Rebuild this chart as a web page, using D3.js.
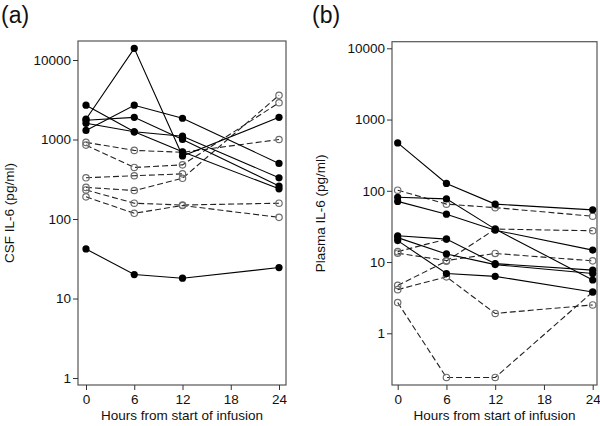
<!DOCTYPE html>
<html><head><meta charset="utf-8">
<script src="https://cdn.jsdelivr.net/npm/d3@7"></script>
<style>
html,body{margin:0;padding:0;background:#fff;}
svg{display:block;font-family:"Liberation Sans",Arial,Helvetica,sans-serif;}
</style></head>
<body><svg id="c" width="600" height="426"></svg>
<script>
const hours = [0, 6, 12, 24];
const xTicks = [0, 6, 12, 18, 24];
const yTicksA = [1, 10, 100, 1000, 10000];
const yTicksB = [1, 10, 100, 1000, 10000];

// Panel (a) CSF IL-6, solid = filled circles
const csfSolid = [
  [1800, 14000, 620, 1900],
  [1300, 2700, 1850, 500],
  [1750, 1900, 1000, 260],
  [2700, 1250, 700, 240],
  [1600, 1250, 1100, 330],
  [42, 20, 18, 24.5]
];
// Panel (a) open circles, dashed
const csfOpen = [
  [920, 730, 690, 1000],
  [850, 445, 480, 2900],
  [330, 350, 370, null],
  [250, 228, 325, 3600],
  [232, 158, 150, 158],
  [190, 118, 148, 105]
];
// Panel (b) Plasma IL-6, solid
const plasmaSolid = [
  [470, 127, 65, 54],
  [81, 77, 29, 5.6],
  [71, 47, 28, 14.7],
  [23.4, 21, 9.5, 7.7],
  [22, 13, 9.2, 6.9],
  [20, 6.9, 6.3, 3.8]
];
// Panel (b) open, dashed
const plasmaOpen = [
  [102, 65, 58, 44],
  [14, 21, null, null],
  [13.3, 10.5, 13.2, 10.4],
  [4.7, 10.3, 29, 27.5],
  [4.1, 6.2, 1.9, 2.5],
  [2.7, 0.24, 0.24, 3.8]
];

const svg = d3.select("#c");

function panel(opt) {
  const x = d3.scaleLinear().domain(opt.xd).range([opt.left, opt.right]);
  const y = d3.scaleLog().domain(opt.yd).range([opt.bottom, opt.top]);
  const g = svg.append("g");
  const axCol = "#333";

  g.append("rect").attr("x", opt.left).attr("y", opt.top)
    .attr("width", opt.right - opt.left).attr("height", opt.bottom - opt.top)
    .attr("fill", "none").attr("stroke", "#555").attr("stroke-width", 1.2);

  const yAxis = g.append("g").attr("transform", `translate(${opt.left},0)`)
    .call(d3.axisLeft(y).tickValues(opt.yTicks).tickFormat(d3.format("d")).tickSize(5).tickPadding(2));
  const xAxis = g.append("g").attr("transform", `translate(0,${opt.bottom})`)
    .call(d3.axisBottom(x).tickValues(xTicks).tickFormat(d3.format("d")).tickSize(5).tickPadding(4));
  [yAxis, xAxis].forEach(a => {
    a.select(".domain").remove();
    a.selectAll("line").attr("stroke", axCol).attr("stroke-width", 1);
    a.selectAll("text").attr("fill", "#111").style("font-size", "13.5px")
      .style("font-family", "Liberation Sans, Arial, sans-serif");
  });

  const line = d3.line().defined(d => d.v != null)
    .x(d => x(d.h)).y(d => y(d.v));
  const toPts = s => s.map((v, i) => ({h: hours[i], v: v}));

  opt.open.forEach(s => {
    g.append("path").datum(toPts(s)).attr("d", line).attr("fill", "none")
      .attr("stroke", "#222").attr("stroke-width", 1.1).attr("stroke-dasharray", "6,3");
  });
  opt.open.forEach(s => {
    g.selectAll(null).data(toPts(s).filter(d => d.v != null)).enter().append("circle")
      .attr("cx", d => x(d.h)).attr("cy", d => y(d.v)).attr("r", 3.2)
      .attr("fill", "none").attr("stroke", "#6e6e6e").attr("stroke-width", 1.2);
  });
  opt.solid.forEach(s => {
    const pts = toPts(s);
    g.append("path").datum(pts).attr("d", line).attr("fill", "none")
      .attr("stroke", "#000").attr("stroke-width", 1.1);
    g.selectAll(null).data(pts.filter(d => d.v != null)).enter().append("circle")
      .attr("cx", d => x(d.h)).attr("cy", d => y(d.v)).attr("r", 3.6)
      .attr("fill", "#000");
  });

  g.append("text").attr("x", (opt.left + opt.right) / 2).attr("y", 420)
    .attr("text-anchor", "middle").style("font-size", "13.5px").attr("fill", "#111")
    .text("Hours from start of infusion");
  g.append("text").attr("transform", `translate(${opt.ylabX},${(opt.top + opt.bottom) / 2}) rotate(-90)`)
    .attr("text-anchor", "middle").style("font-size", "13.5px").attr("fill", "#111")
    .text(opt.ylab);
  g.append("text").attr("x", opt.tagX).attr("y", 23)
    .style("font-size", "23px").attr("fill", "#111").text(opt.tag);
}

panel({left: 78, right: 286, top: 41, bottom: 385,
  xd: [-0.995, 24.87], yd: [0.817, 17340], yTicks: yTicksA,
  solid: csfSolid, open: csfOpen, ylab: "CSF IL-6 (pg/ml)", ylabX: 14, tag: "(a)", tagX: 1});
panel({left: 392, right: 597, top: 41.7, bottom: 385,
  xd: [-0.70, 24.53], yd: [0.188, 12380], yTicks: yTicksB,
  solid: plasmaSolid, open: plasmaOpen, ylab: "Plasma IL-6 (pg/ml)", ylabX: 325, tag: "(b)", tagX: 312});
</script></body></html>
